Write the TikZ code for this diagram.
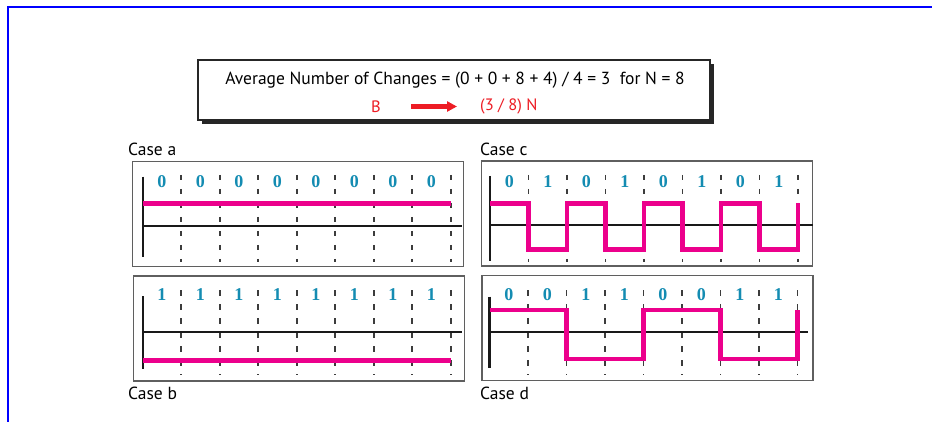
\documentclass[tikz,border=0pt]{standalone}
\usepackage{fontspec}
\setmainfont{PT Sans}
\newfontfamily\bitfont{Liberation Serif}
\usetikzlibrary{arrows.meta}
\definecolor{sigpink}{RGB}{236,0,140}
\definecolor{bitblue}{RGB}{20,140,178}
\definecolor{hlred}{RGB}{237,28,36}
\definecolor{framegray}{RGB}{95,95,95}
\definecolor{dashgray}{RGB}{60,60,60}
\definecolor{borderblue}{RGB}{0,0,255}
\tikzset{
  panel/.style={draw=framegray, line width=1.4pt, minimum width=331pt, minimum height=105pt, inner sep=0pt},
  axisline/.style={black!90, line width=2.1pt},
  gridline/.style={dashgray, line width=1.6pt, dash pattern=on 5.5pt off 8.5pt},
  sig/.style={sigpink, line width=4.6pt, line join=miter},
  bit/.style={text=bitblue, font=\bitfont\bfseries\fontsize{18}{18}\selectfont, inner sep=0pt},
  caselabel/.style={font=\fontsize{17.5}{18}\selectfont, anchor=west, inner sep=0pt},
  titletext/.style={font=\fontsize{17.5}{18}\selectfont, inner sep=0pt},
}
\begin{document}
\begin{tikzpicture}[x=1pt,y=-1pt]
\useasboundingbox (0,0) rectangle (932,422);
% outer blue border
\draw[borderblue, line width=2pt] (7.8,422) -- (7.8,7) -- (932,7);

% title box with shadow
\fill[black!85] (202,64) rectangle (714,124.5);
\node[draw=black!85, fill=white, line width=2pt, minimum width=512pt, minimum height=60pt, inner sep=0pt] (title) at (454,90) {};
\node[titletext] (eq) at (455,80) {Average Number of Changes = (0 + 0 + 8 + 4) / 4 = 3\ \ for N = 8};
\node[titletext, font=\fontsize{16.5}{17}\selectfont, text=hlred] (B) at (376,106.5) {B};
\node[titletext, font=\fontsize{16.5}{17}\selectfont, text=hlred, anchor=west] (N) at (480,106.5) {(3 / 8) N};
\draw[hlred, line width=4.5pt, -{Triangle[length=10pt,width=10pt]}, shorten <=30pt, shorten >=23pt] (B.east) -- (N.west);

% panels
\node[panel] (pa) at (298,214) {};
\node[panel] (pb) at (299,328.5) {};
\node[panel] (pc) at (647,213.5) {};
\node[panel] (pd) at (647.5,328) {};

\node[caselabel] (la) at (128,149.5) {Case a};
\node[caselabel] (lc) at (480,149.5) {Case c};
\node[caselabel] (lb) at (128,393) {Case b};
\node[caselabel] (ld) at (480,393) {Case d};

% ---------- Case a ----------
\foreach \k in {1,...,8} {
  \draw[gridline] ({142.7+38.5*\k},175) -- ({142.7+38.5*\k},262);
}
\foreach \k in {1,...,8} {
  \node[bit] (ba\k) at ({142.7+38.5*\k-19.25},181.7) {0};
}
\draw[axisline] (142.7,176.7) -- (142.7,257.3);
\draw[axisline] (142.7,226) -- (461.7,226);
\draw[sig] (142.7,203.3) -- (450.7,203.3);

% ---------- Case b ----------
\foreach \k in {1,...,8} {
  \draw[gridline] ({142.7+38.5*\k},290) -- ({142.7+38.5*\k},375);
}
\foreach \k in {1,...,8} {
  \node[bit] (bb\k) at ({142.7+38.5*\k-19.25},295) {1};
}
\draw[axisline] (142.7,296) -- (142.7,369.3);
\draw[axisline] (142.7,332.3) -- (461.7,332.3);
\draw[sig] (142.7,360.7) -- (450.7,360.7);

% ---------- Case c ----------
\foreach \k in {1,...,8} {
  \draw[gridline] ({490+38.5*\k},175) -- ({490+38.5*\k},262);
}
\foreach \k/\b in {1/0,2/1,3/0,4/1,5/0,6/1,7/0,8/1} {
  \node[bit] (bc\k) at ({490+38.5*\k-19.25},181.7) {\b};
}
\draw[axisline] (490,176) -- (490,260.7);
\draw[axisline] (490,225) -- (812.7,225);
\draw[sig] (490,203.3) -- (528.5,203.3) -- (528.5,249.3) -- (567,249.3) -- (567,203.3)
  -- (605.5,203.3) -- (605.5,249.3) -- (644,249.3) -- (644,203.3)
  -- (682.5,203.3) -- (682.5,249.3) -- (721,249.3) -- (721,203.3)
  -- (759.5,203.3) -- (759.5,249.3) -- (798,249.3) -- (798,203.3);

% ---------- Case d ----------
\foreach \k in {1,...,8} {
  \draw[gridline] ({489.5+38.5*\k},290) -- ({489.5+38.5*\k},375);
}
\foreach \k/\b in {1/0,2/0,3/1,4/1,5/0,6/0,7/1,8/1} {
  \node[bit] (bd\k) at ({489.5+38.5*\k-19.25},295) {\b};
}
\draw[axisline] (489.5,296.7) -- (489.5,368.3);
\draw[axisline] (489.5,331.7) -- (808.3,331.7);
\draw[sig] (489.5,310) -- (566.5,310) -- (566.5,359) -- (643.5,359) -- (643.5,310)
  -- (720.5,310) -- (720.5,359) -- (797.5,359) -- (797.5,310);
\end{tikzpicture}
\end{document}
